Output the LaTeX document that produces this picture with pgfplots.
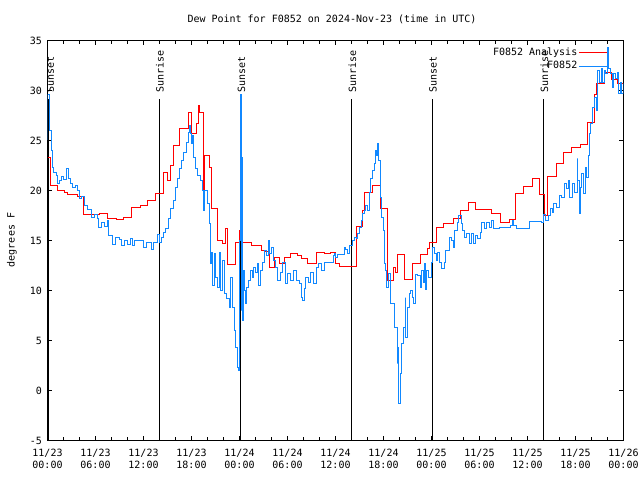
\documentclass[border=0pt]{standalone}
\usepackage{pgfplots}
\pgfplotsset{compat=1.18}
\usepackage{fontspec}
\setmainfont{DejaVu Sans Mono}
\definecolor{obsblue}{RGB}{17,136,255}
\definecolor{anred}{RGB}{255,0,0}
\begin{document}
\begin{tikzpicture}[font=\fontsize{10}{12}\selectfont]
\useasboundingbox (0,0) rectangle (640pt,480pt);
\begin{axis}[
  at={(47.5pt,39.5pt)}, anchor=south west,
  scale only axis, width=576pt, height=400pt,
  xmin=0, xmax=72, ymin=-5, ymax=35,
  x filter/.expression={round(x*8)/8},
  xtick={0,6,...,72},
  xticklabels={{11/23\\00:00},{11/23\\06:00},{11/23\\12:00},{11/23\\18:00},{11/24\\00:00},{11/24\\06:00},{11/24\\12:00},{11/24\\18:00},{11/25\\00:00},{11/25\\06:00},{11/25\\12:00},{11/25\\18:00},{11/26\\00:00}},
  minor x tick num=2,
  ytick={-5,0,...,35},
  xticklabel style={align=center, font=\fontsize{10}{12}\selectfont, yshift=-5pt},
  yticklabel style={font=\fontsize{10}{12}\selectfont, xshift=-2pt},
  /pgf/number format/assume math mode=true,
  major tick length=4.5pt, minor tick length=4pt,
  tick style={black, line width=1pt},
  axis line style={line width=1pt},
  no markers,
  legend style={at={(1,1)}, anchor=north east, xshift=-12.5pt, yshift=-3pt,
    draw=none, fill=none, font=\fontsize{10}{12}\selectfont,
    nodes={inner sep=1.5pt, text height=8pt, text depth=2pt}, row sep=0.5pt},
  legend cell align=right,
  legend plot pos=right,
  legend image code/.code={\draw[#1] (0pt,-0.5pt) -- (28pt,-0.5pt);},
]
% sunrise / sunset lines
\addplot[draw=black, line width=1pt, forget plot] coordinates {(0.16,-5) (0.16,29.1)};
\addplot[draw=black, line width=1pt, forget plot] coordinates {(13.94,-5) (13.94,29.1)};
\addplot[draw=black, line width=1pt, forget plot] coordinates {(24.17,-5) (24.17,29.1)};
\addplot[draw=black, line width=1pt, forget plot] coordinates {(38.03,-5) (38.03,29.1)};
\addplot[draw=black, line width=1pt, forget plot] coordinates {(48.13,-5) (48.13,29.1)};
\addplot[draw=black, line width=1pt, forget plot] coordinates {(62.0,-5) (62.0,29.1)};
% analysis
\addplot[draw=anred, line width=1pt, const plot] coordinates {
(0,23.3) (0.38,20.5) (1.3,20.0) (2.1,19.8) (2.5,19.6) (3.8,19.4) (4.5,17.6)
(6.5,17.7) (7.55,17.2) (8.6,17.1) (9.56,17.3) (10.56,18.3) (11.6,18.5)
(12.5,19.0) (13.5,19.7) (14.5,21.8) (15.0,21.0) (15.4,22.5) (15.7,24.5)
(16.5,26.2) (17.66,27.8) (18.0,25.7) (18.66,26.7) (18.85,28.5) (18.95,27.8)
(19.5,19.0) (19.6,23.5) (20.2,22.3) (20.5,18.2) (21.3,15.0) (21.9,14.7)
(22.3,16.2) (22.5,12.6) (23.45,14.8) (24.0,16.0) (24.3,14.8) (25.5,14.5)
(26.7,14.0) (27.2,13.9) (27.7,12.3) (28.4,13.3) (28.96,12.7) (29.6,13.3)
(30.4,13.7) (31.3,13.5) (31.7,13.2) (32.5,12.7) (33.6,13.8) (34.6,13.7)
(35.4,13.8) (36.06,12.7) (36.5,12.4) (38.57,16.4) (39.4,18.0) (39.6,19.8)
(40.57,20.5) (41.6,18.2) (42.5,11.0) (43.2,12.3) (43.5,11.8) (43.8,13.6)
(44.6,11.1) (45.6,12.7) (46.6,13.6) (47.5,14.2) (47.8,14.8) (48.6,16.3)
(49.5,16.7) (50.7,17.2) (51.6,18.0) (52.6,18.8) (53.5,18.1) (55.56,17.7)
(56.68,16.8) (57.73,17.1) (58.48,19.7) (59.48,20.4) (60.57,21.2) (61.48,19.6)
(62.1,17.5) (62.5,21.4) (63.65,22.7) (64.5,23.8) (65.5,24.3) (66.6,24.6)
(67.5,26.8) (68.4,29.6) (68.6,30.7) (69.6,31.8) (70.46,31.1) (71.3,30.7) (72,30.7)
};
\addlegendentry{F0852 Analysis}
% observations
\addplot[draw=obsblue, line width=1pt, const plot] coordinates {
(0,25.0) (0.05,29.6) (0.2,29.0) (0.3,26.0) (0.46,24.0) (0.6,22.3) (0.79,21.8)
(1.09,21.5) (1.29,20.7) (1.5,21.0) (1.71,21.4) (2.0,21.1) (2.34,22.2) (2.63,21.2)
(2.88,20.7) (3.17,20.3) (3.46,20.5) (3.71,20.0) (3.96,19.2) (4.2,19.4) (4.63,18.5)
(5.05,18.1) (5.47,17.3) (5.88,17.6) (6.22,17.2) (6.43,16.3) (6.8,16.8) (7.14,16.4)
(7.47,17.0) (7.68,15.5) (8.1,15.0) (8.18,14.6) (8.47,15.3) (9.0,15.1) (9.22,14.5)
(9.64,15.0) (10.06,14.6) (10.35,15.2) (10.68,14.5) (10.89,15.0) (11.52,15.0)
(12.06,14.3) (12.35,14.8) (12.9,14.8) (12.98,14.1) (13.19,14.8) (13.73,15.6)
(14.02,14.8) (14.23,15.3) (14.44,15.8) (14.73,16.2) (15.07,17.2) (15.4,18.2)
(15.7,19.0) (15.98,20.3) (16.2,21.2) (16.5,22.2) (16.7,23.0) (17.05,23.8)
(17.36,24.8) (17.57,25.8) (17.7,26.5) (17.85,25.7) (18.0,24.7) (18.15,25.5)
(18.3,23.3) (18.5,22.2) (18.8,21.5) (19.07,21.0) (19.37,20.0) (19.5,18.0)
(19.66,20.0) (20.0,18.7) (20.2,16.7) (20.33,12.7) (20.5,13.8) (20.66,10.5)
(20.83,13.7) (21.04,11.3) (21.25,10.3) (21.45,13.8) (21.66,10.0) (21.87,13.0)
(22.08,9.7) (22.4,9.2) (22.7,8.3) (22.9,11.3) (23.1,8.3) (23.33,6.0) (23.5,4.3)
(23.7,2.3) (23.9,2.0) (24.02,15.0) (24.12,29.6) (24.2,8.0) (24.26,23.3) (24.33,7.0)
(24.45,12.0) (24.6,10.0) (24.8,8.7) (24.9,10.3) (25.1,11.0) (25.4,12.0) (25.6,11.3)
(25.8,12.3) (26.0,11.8) (26.2,12.7) (26.4,10.5) (26.6,12.0) (26.9,12.8) (27.1,14.0)
(27.4,13.5) (27.6,15.0) (27.8,13.7) (28.0,14.3) (28.2,13.0) (28.5,12.3) (28.8,11.0)
(29.1,11.8) (29.4,12.8) (29.7,10.7) (30.0,11.7) (30.4,11.0) (30.8,12.0) (31.1,11.0)
(31.5,10.7) (31.7,9.3) (31.9,9.0) (32.1,10.2) (32.3,11.3) (32.6,10.8) (32.9,11.8)
(33.3,10.7) (33.6,12.3) (33.9,12.7) (34.2,12.0) (34.6,12.8) (35.5,12.8) (35.7,13.5)
(35.9,13.7) (36.06,13.3) (36.27,13.6) (37.1,14.3) (37.3,14.1) (37.5,13.7) (37.7,14.5)
(38.1,15.0) (38.35,15.3) (38.57,15.2) (38.8,15.7) (39.0,16.3) (39.2,17.0) (39.4,17.7)
(39.6,18.0) (39.8,18.5) (40.0,18.0) (40.2,19.8) (40.4,21.2) (40.6,22.0) (40.86,22.7)
(41.0,24.0) (41.15,23.5) (41.3,24.7) (41.4,23.0) (41.57,19.3) (41.8,17.3) (41.97,16.0)
(42.1,12.7) (42.3,12.0) (42.4,10.3) (42.6,11.7) (42.9,8.7) (43.4,6.3) (43.7,2.7)
(43.8,4.3) (43.9,-1.3) (44.07,1.7) (44.3,4.7) (44.5,6.3) (44.7,9.3) (44.8,5.3)
(44.95,8.3) (45.2,9.7) (45.35,10.0) (45.6,9.3) (45.75,8.7) (46.0,11.6) (46.3,11.5)
(46.6,10.3) (46.8,12.0) (47.0,10.8) (47.1,12.7) (47.25,10.1) (47.4,12.0) (47.65,11.3)
(47.95,12.8) (48.16,14.3) (48.4,13.7) (48.6,13.0) (48.8,13.8) (49.0,12.8) (49.3,12.2)
(49.6,12.8) (49.8,14.0) (50.2,15.3) (50.5,15.0) (50.7,14.3) (50.9,16.0) (51.2,16.8)
(51.4,17.5) (51.7,16.7) (51.9,16.0) (52.1,15.3) (52.4,15.7) (52.7,14.7) (53.0,15.7)
(53.2,14.7) (53.5,15.5) (53.8,15.2) (54.1,15.8) (54.3,16.8) (54.6,16.2) (54.9,16.8)
(55.2,16.3) (55.5,17.0) (55.8,16.2) (56.5,16.3) (57.3,16.3) (57.9,16.5) (58.1,17.0)
(58.3,16.5) (58.6,16.2) (60.1,16.2) (60.3,16.9) (61.8,16.8) (61.97,17.6) (62.3,17.0)
(62.6,17.5) (62.9,18.2) (63.1,17.8) (63.3,18.7) (63.6,18.3) (63.98,19.5) (64.3,19.3)
(64.6,20.7) (64.9,20.2) (65.1,21.0) (65.3,19.3) (65.6,20.7) (65.9,19.8) (66.2,23.2)
(66.3,21.0) (66.5,17.7) (66.6,20.3) (66.8,21.7) (67.0,19.7) (67.2,22.3) (67.4,21.3)
(67.6,23.5) (67.7,25.7) (67.9,26.7) (68.1,28.3) (68.4,29.3) (68.6,28.0) (68.8,32.0)
(69.0,30.8) (69.2,32.2) (69.4,30.8) (69.6,32.0) (69.8,31.7) (70.0,34.3) (70.1,32.2)
(70.4,31.7) (70.6,30.3) (70.8,31.7) (71.0,31.2) (71.2,31.8) (71.4,29.7) (71.6,30.8)
(71.8,29.7) (72.0,30.7)
};
\addlegendentry{F0852}
\node[rotate=90, anchor=west, inner sep=0pt] at (axis cs:0.35,29.8) {Sunset};
\node[rotate=90, anchor=west, inner sep=0pt] at (axis cs:14.05,29.8) {Sunrise};
\node[rotate=90, anchor=west, inner sep=0pt] at (axis cs:24.25,29.8) {Sunset};
\node[rotate=90, anchor=west, inner sep=0pt] at (axis cs:38.1,29.8) {Sunrise};
\node[rotate=90, anchor=west, inner sep=0pt] at (axis cs:48.2,29.8) {Sunset};
\node[rotate=90, anchor=west, inner sep=0pt] at (axis cs:62.1,29.8) {Sunrise};
\end{axis}
\node at (332pt,461pt) {Dew Point for F0852 on 2024-Nov-23 (time in UTC)};
\node[rotate=90] at (12pt,240pt) {degrees F};
\end{tikzpicture}
\end{document}
